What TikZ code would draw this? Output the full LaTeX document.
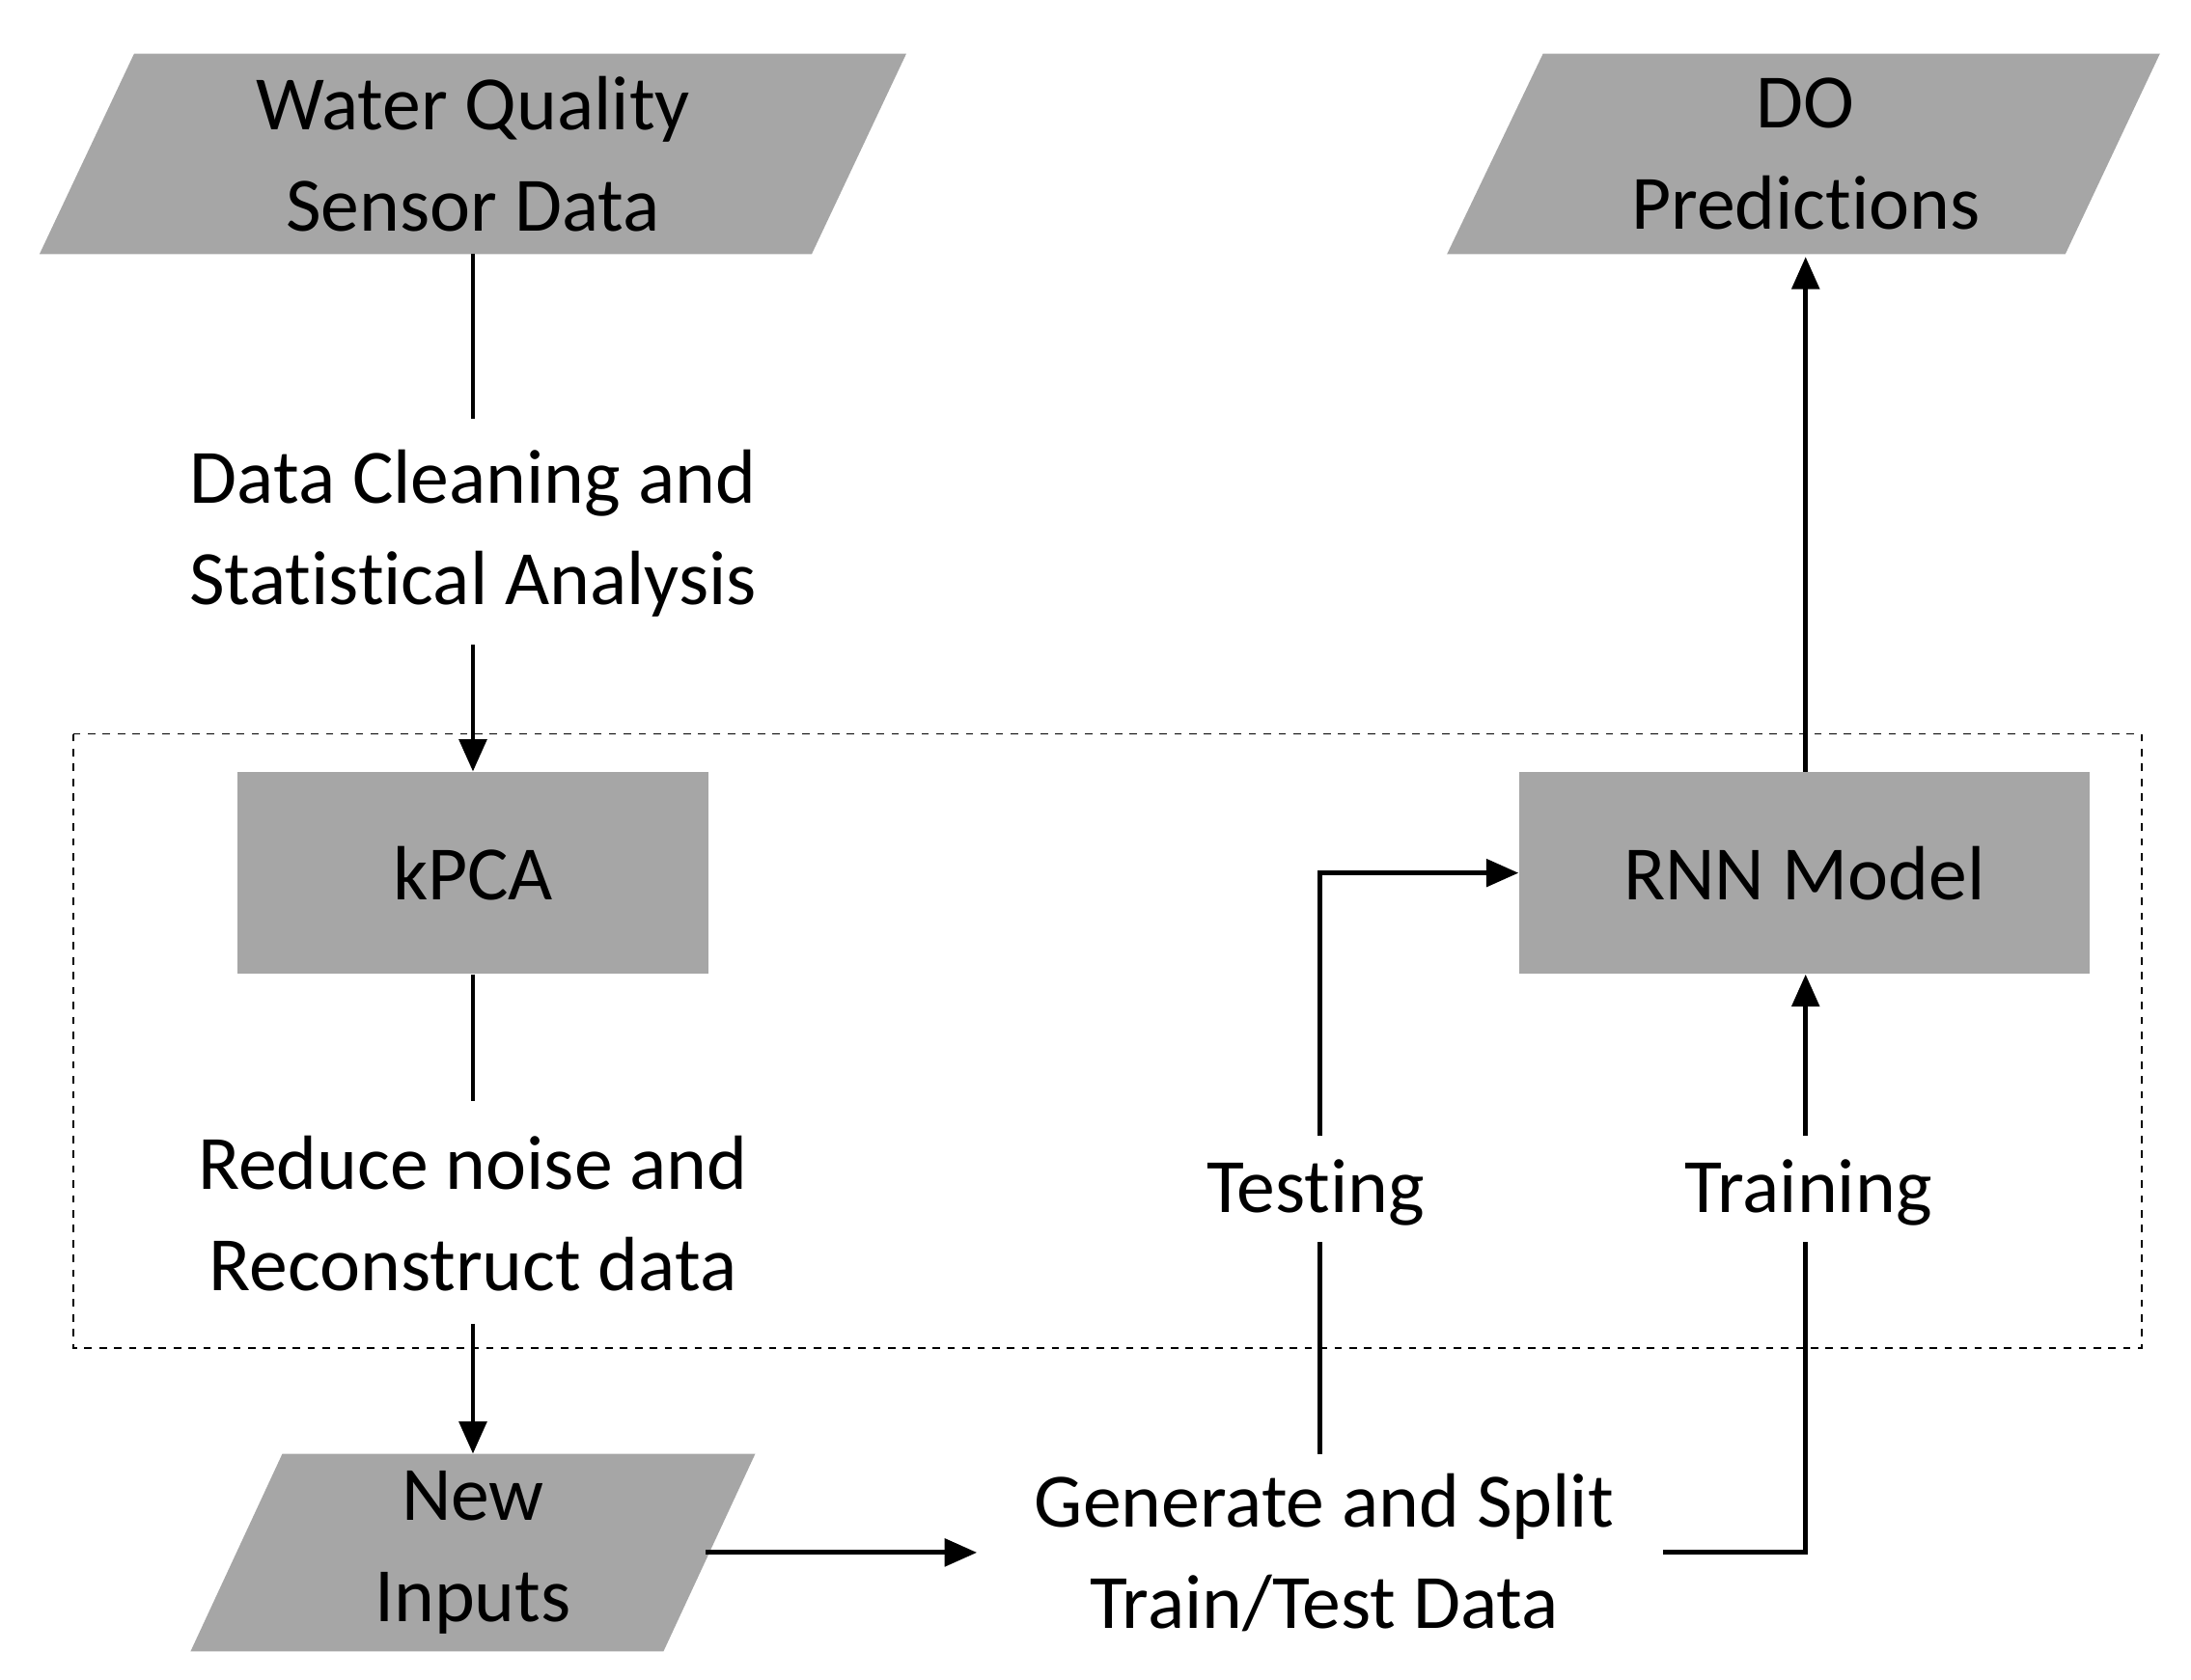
\documentclass[tikz,border=0pt]{standalone}
\usepackage{fontspec}
\setmainfont{Carlito}[Ligatures=NoCommon]
\usetikzlibrary{arrows.meta}
\definecolor{boxgray}{HTML}{A6A6A6}
\begin{document}
\begin{tikzpicture}[x=0.02cm,y=-0.02cm,
  txt/.style={align=center,font=\fontsize{31}{41}\selectfont},
  box/.style={fill=boxgray,draw=none},
  ln/.style={line width=1.9pt},
  arr/.style={ln,-{Triangle[length=13pt,width=11pt]}}]
\useasboundingbox (0,0) rectangle (1552,1190);
% dashed frame
\draw[dashed,line width=0.6pt] (52,520) rectangle (1517,955);
% parallelograms
\fill[boxgray] (95,38)--(642,38)--(575,180)--(28,180)--cycle;
\node[txt] (wq) at (335,109) {Water Quality\\Sensor Data};
\fill[boxgray] (1093,38)--(1530,38)--(1463,180)--(1025,180)--cycle;
\node[txt] (do) at (1279,109) {DO\\Predictions};
\fill[boxgray] (200,1030)--(535,1030)--(470,1170)--(135,1170)--cycle;
\node[txt] (ni) at (335,1100) {New\\Inputs};
% boxes
\node[box,minimum width=334*0.02cm,minimum height=143*0.02cm,txt] (kpca) at (335,618.5) {kPCA};
\node[box,minimum width=404*0.02cm,minimum height=143*0.02cm,txt] (rnn) at (1278,618.5) {RNN Model};
% labels
\node[txt] (dc) at (335,378) {Data Cleaning and\\Statistical Analysis};
\node[txt] (rn) at (335,860) {Reduce noise and\\Reconstruct data};
\node[txt] (gs) at (938,1100) {Generate and Split\\Train/Test Data};
\node[txt] (te) at (932,845) {Testing};
\node[txt] (tr) at (1281,845) {Training};
% coordinates
\coordinate (wqb) at (335,180);
\coordinate (c1) at (335,297);
\coordinate (c2) at (335,457);
\coordinate (c3) at (335,780);
\coordinate (c4) at (335,938);
\coordinate (nib) at (335,1030);
\coordinate (nir) at (500,1100);
\coordinate (gsl) at (692,1100);
\coordinate (t1) at (935,1030);
\coordinate (t2) at (935,880);
\coordinate (t3) at (935,805);
\coordinate (t4) at (935,618.5);
\coordinate (r1) at (1178,1100);
\coordinate (r2) at (1279,1100);
\coordinate (r3) at (1279,880);
\coordinate (r4) at (1279,805);
\coordinate (dob) at (1279,182);
% connectors
\draw[ln] (wqb) -- (c1);
\draw[arr] (c2) -- (kpca.north);
\draw[ln] (kpca.south) -- (c3);
\draw[arr] (c4) -- (nib);
\draw[arr] (nir) -- (gsl);
\draw[ln] (t1) -- (t2);
\draw[arr] (t3) -- (t4) -- (rnn.west);
\draw[ln] (r1) -- (r2) -- (r3);
\draw[arr] (r4) -- (rnn.south -| r4);
\draw[arr] (rnn.north -| dob) -- (dob);
\end{tikzpicture}
\end{document}
